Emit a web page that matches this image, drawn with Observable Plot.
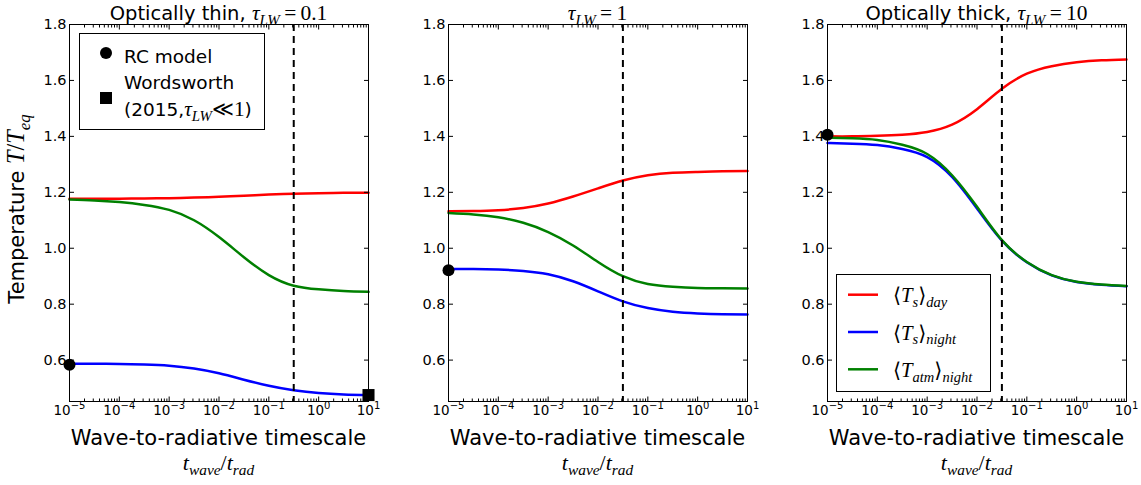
<!DOCTYPE html>
<html>
<head>
<meta charset="utf-8">
<script src="https://cdn.jsdelivr.net/npm/d3@7"></script>
<script src="https://cdn.jsdelivr.net/npm/@observablehq/plot@0.6"></script>
<style>
  body { margin: 0; background: #fff; }
  #fig { position: relative; width: 1141px; height: 485px; overflow: hidden; font-family: "DejaVu Sans"; }
  #fig > svg { position: absolute; top: 0; }
</style>
</head>
<body>
<div id="fig"></div>
<script>
// Wave-to-radiative timescale t_wave / t_rad (half-decade sampling)
const timescale = [1e-5, 3.16e-5, 1e-4, 3.16e-4, 1e-3, 3.16e-3, 1e-2, 3.16e-2, 1e-1, 3.16e-1, 1, 3.16, 10];

// Optically thin, tau_LW = 0.1
const thinDay      = [1.177, 1.177, 1.177, 1.178, 1.179, 1.181, 1.184, 1.188, 1.192, 1.195, 1.197, 1.198, 1.198];
const thinNight    = [0.587, 0.587, 0.586, 0.584, 0.580, 0.570, 0.553, 0.530, 0.508, 0.492, 0.482, 0.477, 0.475];
const thinAtmNight = [1.174, 1.171, 1.165, 1.155, 1.137, 1.100, 1.040, 0.968, 0.904, 0.866, 0.853, 0.847, 0.844];

// tau_LW = 1
const midDay      = [1.132, 1.133, 1.136, 1.144, 1.160, 1.185, 1.214, 1.242, 1.261, 1.270, 1.273, 1.275, 1.276];
const midNight    = [0.926, 0.926, 0.924, 0.919, 0.907, 0.882, 0.846, 0.810, 0.786, 0.773, 0.767, 0.764, 0.763];
const midAtmNight = [1.126, 1.121, 1.111, 1.091, 1.058, 1.010, 0.951, 0.900, 0.872, 0.862, 0.858, 0.857, 0.856];

// Optically thick, tau_LW = 10
const thickDay      = [1.400, 1.400, 1.402, 1.406, 1.416, 1.442, 1.497, 1.570, 1.624, 1.651, 1.665, 1.672, 1.675];
const thickNight    = [1.376, 1.374, 1.369, 1.355, 1.326, 1.255, 1.142, 1.027, 0.950, 0.903, 0.879, 0.869, 0.864];
const thickAtmNight = [1.395, 1.393, 1.387, 1.370, 1.337, 1.261, 1.148, 1.029, 0.951, 0.904, 0.880, 0.870, 0.865];

// Radiative-convective model reference points (at the smallest timescale)
const rcModelX = 1e-5;
const rcThin = 0.583, rcMid = 0.921, rcThick = 1.406;
// Wordsworth (2015) analytic limit, tau_LW << 1
const wordsworthX = 10, wordsworthThin = 0.475;

// Critical timescale (dashed line) per panel
const criticalTime = [0.316, 0.0316, 0.0316];

// Axis ticks
const yTicks = [0.6, 0.8, 1.0, 1.2, 1.4, 1.6, 1.8];
const xMajor = [1e-5, 1e-4, 1e-3, 1e-2, 1e-1, 1, 10];
const xMinor = [];
for (const d of [1e-5, 1e-4, 1e-3, 1e-2, 1e-1, 1]) for (let k = 2; k <= 9; k++) xMinor.push(+(k * d).toPrecision(3));

const seriesColor = {day: "#ff0000", night: "#0000ff", atm: "#008000"};

// tick text "10^e"; the exponent is raised after rendering
const powerLabel = d => "10^" + Math.round(Math.log10(d));

const NS = "http://www.w3.org/2000/svg";
const fig = document.getElementById("fig");

function raiseExponents(svg) {
  svg.querySelectorAll("text").forEach(t => {
    const m = /^10\^(-?\d+)$/.exec(t.textContent);
    if (!m) return;
    t.textContent = "";
    const base = document.createElementNS(NS, "tspan");
    base.textContent = "10";
    const sup = document.createElementNS(NS, "tspan");
    sup.textContent = m[1].replace("-", "\u2212");
    sup.setAttribute("font-size", "10px");
    sup.setAttribute("dy", "-6");
    t.append(base, sup);
  });
}

function panel({day, night, atm, critical, dots, squares}, left, marginLeft, marginRight) {
  const rows = [];
  for (const [key, values] of [["day", day], ["night", night], ["atm", atm]])
    values.forEach((v, i) => rows.push({series: key, t: timescale[i], T: v}));
  const none = () => "";
  const svg = Plot.plot({
    width: 380, height: 485,
    marginLeft, marginRight, marginTop: 24, marginBottom: 84,
    style: {fontFamily: "DejaVu Sans", fontSize: "14.5px", color: "black", background: "transparent", overflow: "visible"},
    x: {type: "log", domain: [1e-5, 10], label: null},
    y: {domain: [0.452, 1.8], label: null},
    marks: [
      ...["day", "night", "atm"].map(k => Plot.line(rows.filter(r => r.series === k),
        {x: "t", y: "T", stroke: seriesColor[k], strokeWidth: 2.5, curve: "natural"})),
      Plot.ruleX([critical], {stroke: "black", strokeWidth: 2, strokeDasharray: "7,5"}),
      Plot.dot(dots, {x: "t", y: "T", r: 6, fill: "black", stroke: "none"}),
      Plot.dot(squares, {x: "t", y: "T", r: 6.8, symbol: "square", fill: "black", stroke: "none"}),
      Plot.frame({stroke: "black", strokeWidth: 1}),
      // inward ticks on all four sides
      Plot.axisX({ticks: xMajor, anchor: "bottom", tickSize: 4.5, dy: -4.5, fill: "none", tickFormat: none, label: null}),
      Plot.axisX({ticks: xMinor, anchor: "bottom", tickSize: 2.5, dy: -2.5, fill: "none", tickFormat: none, label: null}),
      Plot.axisX({ticks: xMajor, anchor: "top", tickSize: 4.5, dy: 4.5, fill: "none", tickFormat: none, label: null}),
      Plot.axisX({ticks: xMinor, anchor: "top", tickSize: 2.5, dy: 2.5, fill: "none", tickFormat: none, label: null}),
      Plot.axisY({ticks: yTicks, anchor: "left", tickSize: 5, dx: 5, fill: "none", tickFormat: none, label: null}),
      Plot.axisY({ticks: yTicks, anchor: "right", tickSize: 5, dx: -5, fill: "none", tickFormat: none, label: null}),
      // tick labels
      Plot.axisX({ticks: xMajor, anchor: "bottom", tickSize: 0, tickPadding: 3.5, tickFormat: powerLabel, fontSize: 13.5, label: null}),
      Plot.axisY({ticks: yTicks, anchor: "left", tickSize: 0, tickPadding: 3, tickFormat: d3.format(".1f"), label: null})
    ]
  });
  raiseExponents(svg);
  svg.style.left = left + "px";
  fig.appendChild(svg);
}

panel({day: thinDay, night: thinNight, atm: thinAtmNight, critical: criticalTime[0],
       dots: [{t: rcModelX, T: rcThin}], squares: [{t: wordsworthX, T: wordsworthThin}]}, 0, 69, 12);
panel({day: midDay, night: midNight, atm: midAtmNight, critical: criticalTime[1],
       dots: [{t: rcModelX, T: rcMid}], squares: []}, 380, 68, 13);
panel({day: thickDay, night: thickNight, atm: thickAtmNight, critical: criticalTime[2],
       dots: [{t: rcModelX, T: rcThick}], squares: []}, 760, 67, 14);

// ---- annotation layer: titles, axis labels, legends ----
const ann = document.createElementNS(NS, "svg");
ann.setAttribute("width", 1141); ann.setAttribute("height", 485);
ann.style.left = "0px"; ann.style.pointerEvents = "none";
fig.appendChild(ann);

const SANS = "DejaVu Sans", SERIF = "'Liberation Serif', 'DejaVu Serif', serif";
function el(name, attrs, parent = ann) {
  const e = document.createElementNS(NS, name);
  for (const k in attrs) e.setAttribute(k, attrs[k]);
  parent.appendChild(e);
  return e;
}
// parts: {t, f: "sans"|"it"|"rm", sub}; math parts are set slightly larger
function label(x, y, parts, size, anchor = "start", transform = null, mathScale = 1.15) {
  const attrs = {x, y, "text-anchor": anchor, "font-size": size, fill: "black"};
  if (transform) { attrs.transform = transform; attrs.x = 0; attrs.y = 0; }
  const t = el("text", attrs);
  let shift = 0;
  for (const p of parts) {
    const s = el("tspan", {}, t);
    const math = p.f === "it" || p.f === "rm";
    const fs = size * (math ? mathScale : 1) * (p.sub ? 0.7 : 1);
    const want = p.sub ? 0.27 * size : 0;
    if (want !== shift) { s.setAttribute("dy", want - shift); shift = want; }
    s.setAttribute("font-family", math ? SERIF : SANS);
    if (p.f === "it") s.setAttribute("font-style", "italic");
    s.setAttribute("font-size", fs);
    s.textContent = p.t;
  }
  return t;
}
const tau = [{t: "\u03C4", f: "it"}, {t: "LW", f: "it", sub: 1}];

const centers = [218.5, 597.5, 976.5];
label(centers[0], 19.5, [{t: "Optically thin, "}, ...tau, {t: "\u2009=\u20090.1", f: "rm"}], 19.5, "middle", null, 1.1);
label(centers[1], 19.5, [...tau, {t: "\u2009=\u20091", f: "rm"}], 19.5, "middle", null, 1.1);
label(centers[2], 19.5, [{t: "Optically thick, "}, ...tau, {t: "\u2009=\u200910", f: "rm"}], 19.5, "middle", null, 1.1);

for (const c of centers) {
  label(c, 445, [{t: "Wave-to-radiative timescale"}], 21, "middle");
  label(c, 470, [{t: "t", f: "it"}, {t: "wave", f: "it", sub: 1}, {t: "/", f: "rm"}, {t: "t", f: "it"}, {t: "rad", f: "it", sub: 1}], 20, "middle", null, 1.1);
}
label(0, 0, [{t: "Temperature "}, {t: "T", f: "it"}, {t: "/", f: "rm"}, {t: "T", f: "it"}, {t: "eq", f: "it", sub: 1}], 21, "middle", "translate(24,209) rotate(-90)");

// marker legend (left panel)
el("rect", {x: 79.5, y: 33.5, width: 185, height: 96, fill: "white", stroke: "black", "stroke-width": 1});
el("circle", {cx: 106, cy: 53, r: 6, fill: "black"});
label(124, 63, [{t: "RC model"}], 18.5);
el("rect", {x: 100, y: 92, width: 12, height: 12, fill: "black"});
label(124, 89, [{t: "Wordsworth"}], 18.5);
label(124, 116, [{t: "(2015,"}, ...tau, {t: "\u226A1", f: "rm"}, {t: ")"}], 18.5);

// series legend (right panel)
el("rect", {x: 836.5, y: 274.5, width: 154, height: 117, fill: "white", stroke: "black", "stroke-width": 1});
const legendRows = [
  ["day", [{t: "\u27E8", f: "rm"}, {t: "T", f: "it"}, {t: "s", f: "it", sub: 1}, {t: "\u27E9", f: "rm"}, {t: "day", f: "it", sub: 1}]],
  ["night", [{t: "\u27E8", f: "rm"}, {t: "T", f: "it"}, {t: "s", f: "it", sub: 1}, {t: "\u27E9", f: "rm"}, {t: "night", f: "it", sub: 1}]],
  ["atm", [{t: "\u27E8", f: "rm"}, {t: "T", f: "it"}, {t: "atm", f: "it", sub: 1}, {t: "\u27E9", f: "rm"}, {t: "night", f: "it", sub: 1}]]
];
legendRows.forEach(([k, parts], i) => {
  const cy = 294.7 + i * 37.3;
  el("line", {x1: 848, x2: 878, y1: cy, y2: cy, stroke: seriesColor[k], "stroke-width": 2.5});
  label(893, cy + 7.5, parts, 18);
});
</script>
</body>
</html>
